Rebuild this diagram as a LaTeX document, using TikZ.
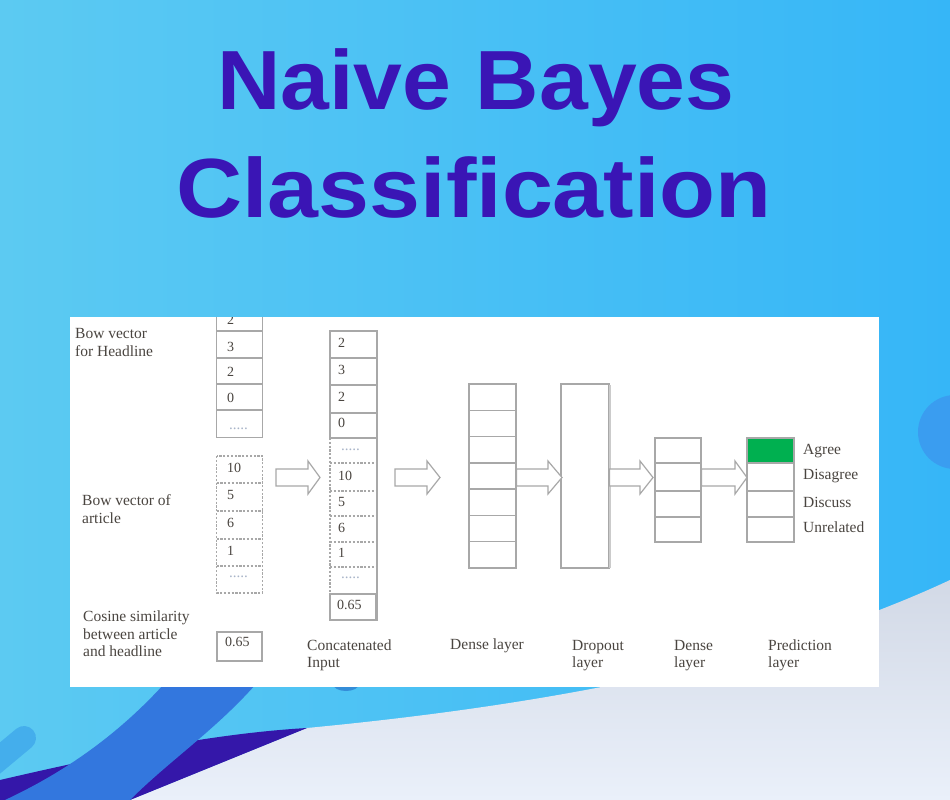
\documentclass[tikz,border=0pt]{standalone}
\usepackage{fontspec}
\setmainfont{Liberation Serif}
\newfontfamily\titlefont{Liberation Sans}
\definecolor{bgA}{HTML}{5CCAF2}
\definecolor{bgB}{HTML}{36B6F7}
\definecolor{greyA}{HTML}{D2D9E6}
\definecolor{greyB}{HTML}{EAF0FA}
\definecolor{bandblue}{HTML}{3377DE}
\definecolor{bandpurple}{HTML}{3417A9}
\definecolor{circblue}{HTML}{3A9DF0}
\definecolor{stripblue}{HTML}{44AEEC}
\definecolor{titlec}{HTML}{3A15B5}
\definecolor{cellgray}{HTML}{A8A8A8}
\definecolor{txt}{HTML}{4A4540}
\definecolor{dotc}{HTML}{A8B4C8}
\definecolor{agreeg}{HTML}{00B050}
\tikzset{
  cell/.style={draw=cellgray, line width=1.3pt},
  dcell/.style={draw=cellgray, line width=1.1pt, dash pattern=on 2.2pt off 1.6pt},
  numbox/.style={draw=cellgray, line width=2.4pt},
  arrowst/.style={draw=cellgray, line width=1.2pt, fill=white, line join=miter},
  num/.style={font=\fontsize{14}{14}\selectfont, text=txt, anchor=west, inner sep=0},
  dots/.style={font=\fontsize{15}{15}\selectfont, text=dotc, anchor=west, inner sep=0},
  lbl/.style={font=\fontsize{15.5}{17.5}\selectfont, text=txt, align=left, anchor=west, inner sep=0},
  titlest/.style={font=\titlefont\bfseries\fontsize{84}{84}\selectfont, text=titlec, anchor=base, inner sep=0},
}
\newcommand\blockarr[4]{%
  \draw[arrowst] (#1,469) -- (#2,469) -- (#2,461) -- (#3,477.5) -- (#2,494) -- (#2,486) -- (#1,486) -- cycle;
  \coordinate (#4) at (#3,477.5);}
\begin{document}
\begin{tikzpicture}[x=1pt,y=-1pt]
\useasboundingbox (0,0) rectangle (950,800);
% background
\shade[left color=bgA, right color=bgB] (0,0) rectangle (950,800);
\fill[circblue] (955,432) circle (37);
\draw[stripblue, line width=24pt, line cap=round] (-12,768) -- (24,738);
\shade[top color=greyA, bottom color=greyB]
  (950,580) .. controls (800,650) and (600,700) .. (307,728) -- (130,800) -- (950,800) -- cycle;
\fill[bandpurple] (0,780) .. controls (120,752) and (220,733) .. (307,728) -- (130,800) -- (0,800) -- cycle;
\fill[bandblue] (200,640) .. controls (145,715) and (80,765) .. (5,800) -- (130,800) .. controls (180,750) and (240,715) .. (290,640) -- cycle;
\fill[circblue!90!black] (346,684) ellipse (13 and 7);
% title
\node[titlest] (t1) at (476,109) {\scalebox{1.045}[1]{Naive Bayes}};
\node[titlest] (t2) at (474,217) {\scalebox{1.09}[1]{Classification}};
% panel
\fill[white] (70,317) rectangle (879,687);
\begin{scope}
\clip (70,317) rectangle (879,687);
% headline column
\draw[cellgray!70, line width=2.5pt] (217,358) -- (262,358);
\draw[cell] (216.5,300) -- (216.5,437.5) -- (262.5,437.5) -- (262.5,300);
\foreach \yy in {331,358,384,410} \draw[cell] (216.5,\yy) -- (262.5,\yy);
\node[num] (h1) at (227,320) {2};
\node[num] (h2) at (227,347) {3};
\node[num] (h3) at (227,372) {2};
\node[num] (h4) at (227,398) {0};
\node[dots] (h5) at (229,429) {.....};
\end{scope}
\node[lbl] (lhead) at (75,342.5) {Bow vector\\for Headline};
% article column
\draw[dcell] (216.5,456) rectangle (262.5,593);
\foreach \yy in {483,511,539,566} \draw[dcell] (216.5,\yy) -- (262.5,\yy);
\node[num] (a1) at (227,468) {10};
\node[num] (a2) at (227,495) {5};
\node[num] (a3) at (227,523) {6};
\node[num] (a4) at (227,551) {1};
\node[dots] (a5) at (229,577) {.....};
\node[lbl] (lart) at (82,509) {Bow vector of\\article};
% cosine
\draw[numbox] (217,632) rectangle (262,661);
\node[num] (c1) at (225,642) {0.65};
\node[lbl] (lcos) at (83,634) {Cosine similarity\\between article\\and headline};
% concatenated column
\draw[cell] (330,438) -- (330,331) -- (377,331) -- (377,593);
\foreach \yy in {358,385,413,438} \draw[cell] (330,\yy) -- (377,\yy);
\draw[dcell] (330,438) -- (330,593);
\foreach \yy in {463,491,516,542,567} \draw[dcell] (330,\yy) -- (377,\yy);
\draw[numbox] (330,594) rectangle (376.5,620);
\node[num] (k1) at (338,343) {2};
\node[num] (k2) at (338,370) {3};
\node[num] (k3) at (338,397) {2};
\node[num] (k4) at (338,423) {0};
\node[dots] (k5) at (341,450) {.....};
\node[num] (k6) at (338,476) {10};
\node[num] (k7) at (338,502) {5};
\node[num] (k8) at (338,528) {6};
\node[num] (k9) at (338,553) {1};
\node[dots] (k10) at (341,578) {.....};
\node[num] (k11) at (337,605) {0.65};
\node[lbl] (lcat) at (307,655.5) {Concatenated\\Input};
% dense 1
\foreach \i in {0,...,6} \draw[cell] (469,{384+\i*26.286}) rectangle (516,{384+(\i+1)*26.286});
\node[lbl] (ld1) at (450,646) {Dense layer};
% dropout
\draw[cell] (561,384) rectangle (609,568);
\draw[cellgray!60, line width=1.5pt] (610.2,385) -- (610.2,568);
\node[lbl] (ldrop) at (572,655.5) {Dropout\\layer};
% dense 2
\foreach \yy/\zz in {438/463,463/491,491/517,517/542} \draw[cell] (655,\yy) rectangle (701,\zz);
\node[lbl] (ld2) at (674,655.5) {Dense\\layer};
% prediction
\fill[agreeg] (747,438) rectangle (794,463);
\foreach \yy/\zz in {438/463,463/491,491/517,517/542} \draw[cell] (747,\yy) rectangle (794,\zz);
\node[lbl] (lpred) at (768,655.5) {Prediction\\layer};
\node[lbl] (p1) at (803,451) {Agree};
\node[lbl] (p2) at (803,476) {Disagree};
\node[lbl] (p3) at (803,502) {Discuss};
\node[lbl] (p4) at (803,527) {Unrelated};
% block arrows
\blockarr{276}{308}{320}{ar1}
\blockarr{395}{427}{440}{ar2}
\blockarr{516.5}{548}{562}{ar3}
\blockarr{609.5}{640}{653}{ar4}
\blockarr{701.5}{735}{747}{ar5}
\end{tikzpicture}
\end{document}
